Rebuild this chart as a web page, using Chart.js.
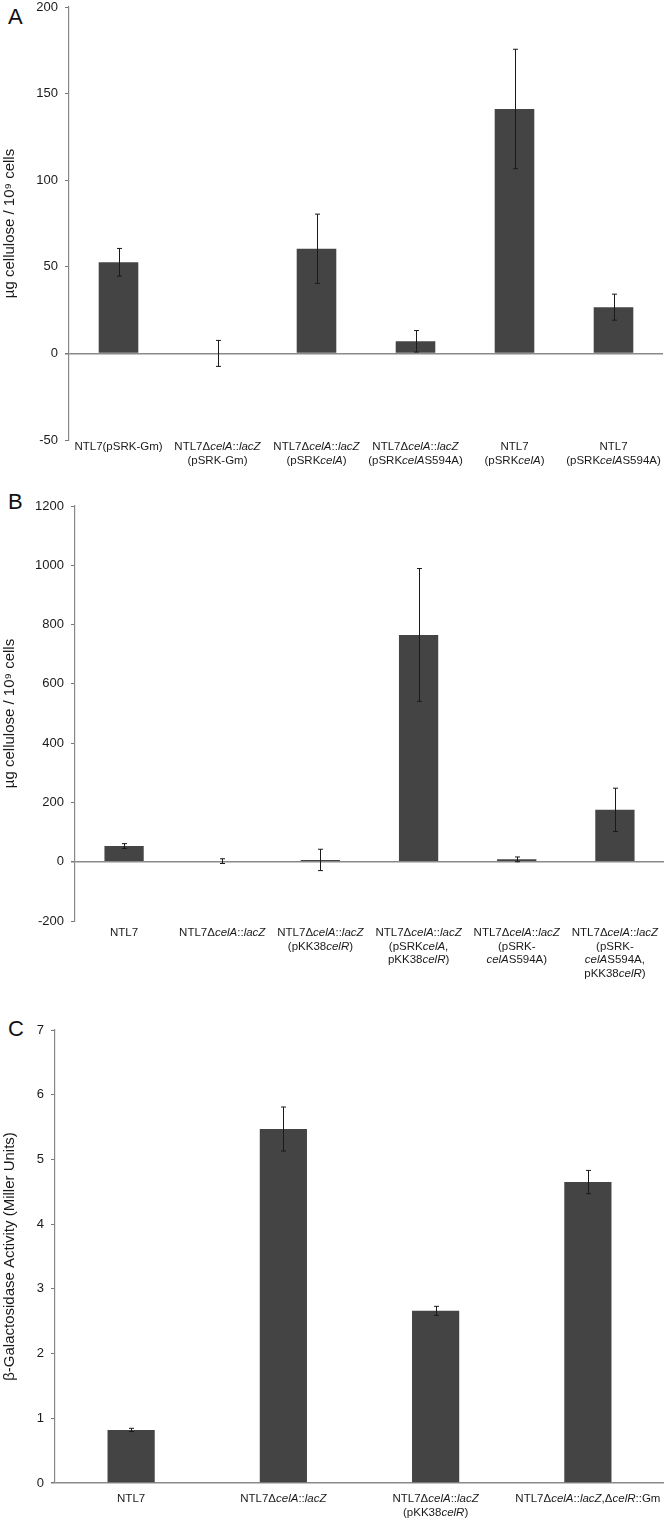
<!DOCTYPE html>
<html>
<head>
<meta charset="utf-8">
<script src="https://cdn.jsdelivr.net/npm/chart.js@4.4.1/dist/chart.umd.min.js"></script>
<style>
  html, body { margin: 0; padding: 0; background: #fff; }
  body { width: 666px; height: 1518px; position: relative; overflow: hidden; font-family: "Liberation Sans", Arial, sans-serif; }
  .wrap { position: absolute; left: 0; width: 666px; }
  .letter { position: absolute; left: 8px; font-size: 22px; color: #111; font-family: "Liberation Sans", Arial, sans-serif; }
</style>
</head>
<body>
<div class="letter" style="top:4px;">A</div>
<div class="letter" style="top:489px;">B</div>
<div class="letter" style="top:1016px;">C</div>
<div class="wrap" style="top:0px;height:480px;"><canvas id="cA"></canvas></div>
<div class="wrap" style="top:490px;height:500px;"><canvas id="cB"></canvas></div>
<div class="wrap" style="top:1010px;height:508px;"><canvas id="cC"></canvas></div>
<script>
// ---------- DATA ----------
const categoriesA = [
  "NTL7(pSRK-Gm)",
  "NTL7Δ<i>celA</i>::<i>lacZ</i>\n(pSRK-Gm)",
  "NTL7Δ<i>celA</i>::<i>lacZ</i>\n(pSRK<i>celA</i>)",
  "NTL7Δ<i>celA</i>::<i>lacZ</i>\n(pSRK<i>celA</i>S594A)",
  "NTL7\n(pSRK<i>celA</i>)",
  "NTL7\n(pSRK<i>celA</i>S594A)"
];
const valuesA = [52.6, 0, 60.4, 7, 141.1, 26.7];
const errorsA = [8, 7.5, 20, 6.2, 34.5, 7.5];
const ticksA = { min: -50, max: 200, step: 50 };
const titleA = "µg cellulose / 10⁹ cells";

const categoriesB = [
  "NTL7",
  "NTL7Δ<i>celA</i>::<i>lacZ</i>",
  "NTL7Δ<i>celA</i>::<i>lacZ</i>\n(pKK38<i>celR</i>)",
  "NTL7Δ<i>celA</i>::<i>lacZ</i>\n(pSRK<i>celA</i>,\npKK38<i>celR</i>)",
  "NTL7Δ<i>celA</i>::<i>lacZ</i>\n(pSRK-\n<i>celA</i>S594A)",
  "NTL7Δ<i>celA</i>::<i>lacZ</i>\n(pSRK-\n<i>celA</i>S594A,\npKK38<i>celR</i>)"
];
const valuesB = [53, 2, 6, 765, 8, 175];
const errorsB = [8, 8, 36, 224, 8, 73];
const ticksB = { min: -200, max: 1200, step: 200 };
const titleB = "µg cellulose / 10⁹ cells";

const categoriesC = [
  "NTL7",
  "NTL7Δ<i>celA</i>::<i>lacZ</i>",
  "NTL7Δ<i>celA</i>::<i>lacZ</i>\n(pKK38<i>celR</i>)",
  "NTL7Δ<i>celA</i>::<i>lacZ</i>,Δ<i>celR</i>::Gm"
];
const valuesC = [0.82, 5.47, 2.66, 4.65];
const errorsC = [0.025, 0.34, 0.07, 0.18];
const ticksC = { min: 0, max: 7, step: 1 };
const titleC = "β-Galactosidase Activity (Miller Units)";

// ---------- PLUGINS ----------
const FONT = '"Liberation Sans", Arial, sans-serif';

function parseRich(line) {
  const segs = [];
  const re = /<i>(.*?)<\/i>/g;
  let last = 0, m;
  while ((m = re.exec(line)) !== null) {
    if (m.index > last) segs.push({ t: line.slice(last, m.index), i: false });
    segs.push({ t: m[1], i: true });
    last = re.lastIndex;
  }
  if (last < line.length) segs.push({ t: line.slice(last), i: false });
  return segs;
}

const richLabels = {
  id: 'richLabels',
  afterDraw(chart, args, opts) {
    const ctx = chart.ctx;
    const xs = chart.scales.x;
    const cats = chart.data.labels;
    const size = opts.size || 11;
    const lh = opts.lineHeight || 13.5;
    ctx.save();
    ctx.fillStyle = '#1a1a1a';
    ctx.textBaseline = 'middle';
    cats.forEach((lab, idx) => {
      const cx = xs.getPixelForValue(idx);
      lab.split('\n').forEach((line, li) => {
        const segs = parseRich(line);
        let w = 0;
        segs.forEach(s => {
          ctx.font = (s.i ? 'italic ' : '') + size + 'px ' + FONT;
          s.w = ctx.measureText(s.t).width;
          w += s.w;
        });
        let x = cx - w / 2;
        const y = chart.chartArea.bottom + opts.offset + li * lh;
        segs.forEach(s => {
          ctx.font = (s.i ? 'italic ' : '') + size + 'px ' + FONT;
          ctx.textAlign = 'left';
          ctx.fillText(s.t, x, y);
          x += s.w;
        });
      });
    });
    ctx.restore();
  }
};

const errorBars = {
  id: 'errorBars',
  afterDatasetsDraw(chart, args, opts) {
    const ctx = chart.ctx;
    const ys = chart.scales.y;
    const meta = chart.getDatasetMeta(0);
    const ds = chart.data.datasets[0];
    ctx.save();
    ctx.strokeStyle = '#1a1a1a';
    ctx.lineWidth = 1;
    meta.data.forEach((bar, i) => {
      const v = ds.data[i], e = ds.errors[i];
      const x = Math.round(bar.x) + 0.5;
      const yt = ys.getPixelForValue(v + e);
      const yb = ys.getPixelForValue(v - e);
      ctx.beginPath();
      ctx.moveTo(x, yt); ctx.lineTo(x, yb);
      ctx.moveTo(x - 2.5, yt); ctx.lineTo(x + 2.5, yt);
      ctx.moveTo(x - 2.5, yb); ctx.lineTo(x + 2.5, yb);
      ctx.stroke();
    });
    ctx.restore();
  }
};

function makeChart(id, cats, vals, errs, tk, title, cfg) {
  const canvas = document.getElementById(id);
  return new Chart(canvas, {
    type: 'bar',
    data: {
      labels: cats,
      datasets: [{
        data: vals,
        errors: errs,
        backgroundColor: '#444444',
        borderWidth: 0,
        categoryPercentage: 1,
        barPercentage: cfg.barPct
      }]
    },
    options: {
      responsive: true,
      maintainAspectRatio: false,
      animation: false,
      events: [],
      layout: { padding: { top: cfg.top, bottom: cfg.bottom, left: 0, right: cfg.right } },
      plugins: {
        legend: { display: false },
        tooltip: { enabled: false },
        richLabels: { offset: cfg.labOffset, size: 11.5, lineHeight: 13.5 }
      },
      scales: {
        x: {
          type: 'category',
          grid: { display: false },
          border: { display: false },
          ticks: { display: false },
          afterFit(scale) {
            scale.height = 0;
            scale.paddingLeft = 0; scale.paddingRight = 0;
            scale.paddingTop = 0; scale.paddingBottom = 0;
          }
        },
        y: {
          min: tk.min, max: tk.max,
          afterFit(scale) {
            scale.width = cfg.left;
            scale.paddingTop = 0; scale.paddingBottom = 0;
            scale.paddingLeft = 0; scale.paddingRight = 0;
          },
          ticks: {
            stepSize: tk.step,
            color: '#1a1a1a',
            padding: 7,
            font: { family: FONT, size: 13 },
            callback: (v) => String(v)
          },
          grid: {
            color: (c) => (c.tick && c.tick.value === 0) ? '#8a8a8a' : 'rgba(0,0,0,0)',
            lineWidth: (c) => (c.tick && c.tick.value === 0) ? 1.5 : 1,
            tickColor: '#777',
            tickLength: 4,
            drawTicks: true
          },
          border: { display: true, color: '#888', width: 1.2 },
          title: {
            display: true,
            text: title,
            color: '#1a1a1a',
            font: { family: FONT, size: 15 },
            padding: { top: 1, bottom: 1 }
          }
        }
      }
    },
    plugins: [errorBars, richLabels]
  });
}

makeChart('cA', categoriesA, valuesA, errorsA, ticksA, titleA,
  { top: 7, bottom: 40, right: 3, left: 69, barPct: 0.4, labOffset: 7 });
makeChart('cB', categoriesB, valuesB, errorsB, ticksB, titleB,
  { top: 16, bottom: 69, right: 2, left: 75, barPct: 0.4, labOffset: 12 });
makeChart('cC', categoriesC, valuesC, errorsC, ticksC, titleC,
  { top: 20, bottom: 35, right: 2, left: 55, barPct: 0.31, labOffset: 16 });
</script>
</body>
</html>
